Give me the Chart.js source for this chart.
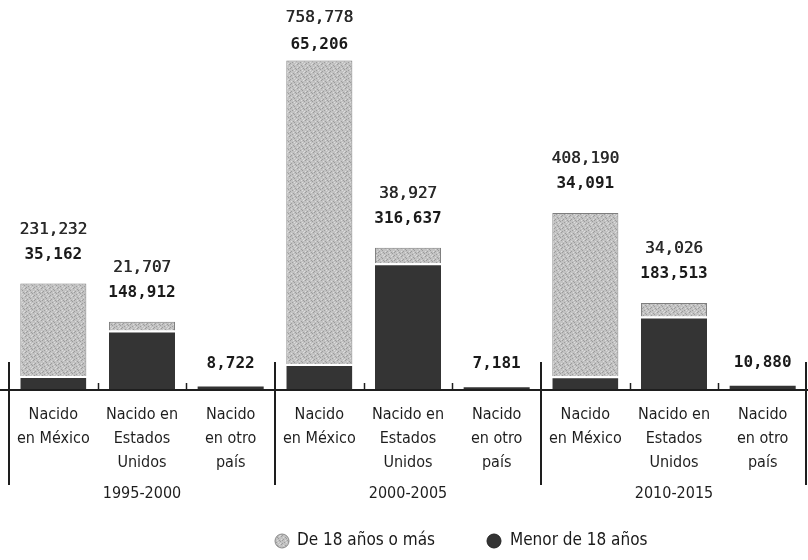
<!DOCTYPE html>
<html><head><meta charset="utf-8">
<script src="https://cdn.jsdelivr.net/npm/chart.js@4.4.0/dist/chart.umd.min.js"></script>
<style>html,body{margin:0;padding:0;background:#fff}#wrap{width:808px;height:560px}</style>
</head><body><div id="wrap"><canvas id="c" width="808" height="560"></canvas></div>
<script>
// ---- data ----
const categories = [
  ["Nacido","en México"],["Nacido en","Estados","Unidos"],["Nacido","en otro","país"],
  ["Nacido","en México"],["Nacido en","Estados","Unidos"],["Nacido","en otro","país"],
  ["Nacido","en México"],["Nacido en","Estados","Unidos"],["Nacido","en otro","país"]
];
const periods = ["1995-2000","2000-2005","2010-2015"];
const adults = [231232, 21707, null, 758778, 38927, null, 408190, 34026, null];
const minors = [35162, 148912, 8722, 65206, 316637, 7181, 34091, 183513, 10880];
const seriesNames = ["De 18 años o más","Menor de 18 años"];

// ---- style ----
const CAT_FONT = "'DejaVu Sans Condensed','DejaVu Sans','Noto Sans',sans-serif";
const NUM_FONT = "'DejaVu Sans Mono',monospace";
const DARK = '#343434';

function stipple(){
  const c = document.createElement('canvas'); c.width = 8; c.height = 8;
  const g = c.getContext('2d');
  g.fillStyle = '#c2c2c2'; g.fillRect(0,0,8,8);
  g.fillStyle = '#9c9c9c';
  [[1,0],[5,1],[3,3],[7,4],[0,5],[4,6],[2,7],[6,2],[2,4]].forEach(p=>g.fillRect(p[0],p[1],1,1));
  g.fillStyle = '#dcdcdc';
  [[3,1],[6,6],[1,3],[5,4],[0,7],[7,0]].forEach(p=>g.fillRect(p[0],p[1],1,1));
  return g.createPattern(c,'repeat');
}
const LIGHT = stipple();

const fmt = v => v.toLocaleString('en-US');

const overlay = {
  id: 'overlay',
  afterDatasetsDraw(chart){
    const ctx = chart.ctx, xs = chart.scales.x, ca = chart.chartArea;
    const bottom = ca.bottom;
    const step = xs.getPixelForValue(1) - xs.getPixelForValue(0);
    const edge = k => xs.getPixelForValue(0) - step/2 + k*step;
    ctx.save();
    ctx.strokeStyle = '#1e1e1e';
    // baseline
    ctx.lineWidth = 2;
    ctx.beginPath(); ctx.moveTo(0, bottom); ctx.lineTo(chart.width, bottom); ctx.stroke();
    // small inner ticks
    ctx.lineWidth = 1.5;
    for (let k = 1; k < categories.length; k++){
      if (k % 3 === 0) continue;
      const x = Math.round(edge(k)) + 0.5;
      ctx.beginPath(); ctx.moveTo(x, bottom - 7); ctx.lineTo(x, bottom); ctx.stroke();
    }
    // group separators
    ctx.lineWidth = 2;
    for (let k = 0; k <= categories.length; k += 3){
      let x = Math.round(edge(k));
      x = Math.min(Math.max(x, 1), chart.width - 2);
      ctx.beginPath(); ctx.moveTo(x, bottom - 28); ctx.lineTo(x, bottom + 95); ctx.stroke();
    }
    // group labels
    ctx.fillStyle = '#1e1e1e';
    ctx.font = "16px " + CAT_FONT;
    ctx.textAlign = 'center'; ctx.textBaseline = 'middle';
    periods.forEach((p, g) => {
      ctx.fillText(p, (edge(g*3) + edge(g*3+3))/2, bottom + 104);
    });
    // value labels
    const mMeta = chart.getDatasetMeta(0), aMeta = chart.getDatasetMeta(1);
    for (let i = 0; i < categories.length; i++){
      const x = mMeta.data[i].x;
      if (adults[i] != null){
        const top = aMeta.data[i].y;
        let a = top - 54, b = top - 29;
        if (a < 18){ a = 18; b = 45; }
        ctx.font = "16px " + NUM_FONT; ctx.fillStyle = '#2a2a2a';
        ctx.fillText(fmt(adults[i]), x, a);
        ctx.fillText(fmt(adults[i]), x + 0.5, a);
        ctx.font = "bold 16px " + NUM_FONT; ctx.fillStyle = '#1a1a1a';
        ctx.fillText(fmt(minors[i]), x, b);
      } else {
        const top = mMeta.data[i].y;
        ctx.font = "bold 16px " + NUM_FONT; ctx.fillStyle = '#1a1a1a';
        ctx.fillText(fmt(minors[i]), x, top - 23);
      }
    }
    // legend
    const ly = 541;
    const items = [
      {name: seriesNames[0], fill: LIGHT, stroke: '#8a8a8a', cx: 282, tx: 297},
      {name: seriesNames[1], fill: DARK, stroke: '#222', cx: 494, tx: 510}
    ];
    ctx.textAlign = 'left';
    ctx.font = "17px " + CAT_FONT;
    items.forEach(it => {
      ctx.beginPath(); ctx.arc(it.cx, ly, 7, 0, Math.PI*2);
      ctx.fillStyle = it.fill; ctx.fill();
      ctx.lineWidth = 1; ctx.strokeStyle = it.stroke; ctx.stroke();
      ctx.fillStyle = '#1a1a1a';
      ctx.fillText(it.name, it.tx, ly);
    });
    ctx.restore();
  }
};

new Chart(document.getElementById('c'), {
  type: 'bar',
  data: {
    labels: categories,
    datasets: [
      { label: seriesNames[1], data: minors, backgroundColor: DARK,
        borderColor: '#ffffff',
        borderWidth: c => (adults[c.dataIndex] != null ? {top: 2, left: 0, right: 0, bottom: 0} : 0),
        borderSkipped: false,
        barPercentage: 0.745, categoryPercentage: 1 },
      { label: seriesNames[0], data: adults, backgroundColor: LIGHT,
        borderColor: '#7e7e7e', borderWidth: 1,
        barPercentage: 0.745, categoryPercentage: 1 }
    ]
  },
  options: {
    responsive: false,
    animation: false,
    devicePixelRatio: 1,
    layout: { padding: { left: 9, right: 1, top: 30, bottom: 10 } },
    plugins: { legend: { display: false }, tooltip: { enabled: false } },
    scales: {
      x: {
        stacked: true,
        grid: { display: false, drawTicks: false },
        border: { display: false },
        ticks: { color: '#1e1e1e', font: { family: CAT_FONT, size: 16, lineHeight: 1.5 },
                 padding: 13, maxRotation: 0, autoSkip: false },
        afterFit: s => { s.height = 160; }
      },
      y: { stacked: true, display: false, min: 0, max: 900000 }
    }
  },
  plugins: [overlay]
});
</script></body></html>
